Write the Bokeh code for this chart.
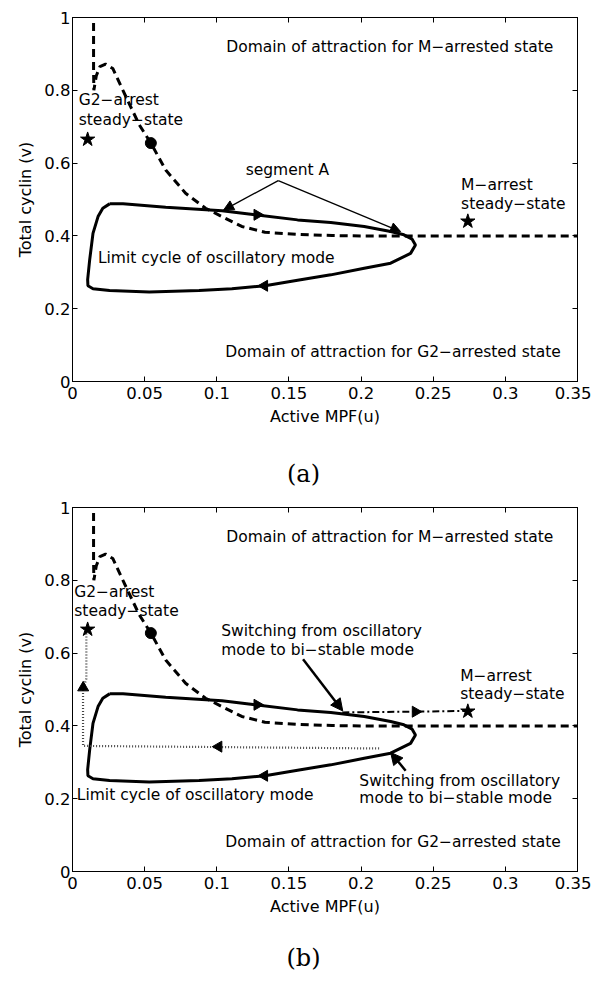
import math
from bokeh.plotting import figure
from bokeh.models import (Range1d, FixedTicker, LinearAxis, Arrow, NormalHead,
                          ColumnDataSource, Div)
from bokeh.layouts import column
from bokeh.core.properties import value
from bokeh.embed import file_html
from bokeh.resources import INLINE

# ---------------- data ----------------
x_ticks = [0, 0.05, 0.1, 0.15, 0.2, 0.25, 0.3, 0.35]
x_tick_labels = ["0", "0.05", "0.1", "0.15", "0.2", "0.25", "0.3", "0.35"]
y_ticks = [0, 0.2, 0.4, 0.6, 0.8, 1.0]
y_tick_labels = ["0", "0.2", "0.4", "0.6", "0.8", "1"]

# dashed nullcline
null_u = [0.0146, 0.0146, 0.0148, 0.0165, 0.0190, 0.0229, 0.0279, 0.0348, 0.0463,
          0.0543, 0.0646, 0.0784, 0.0922, 0.1036, 0.1173, 0.1334, 0.156, 0.18,
          0.20, 0.25, 0.30, 0.35]
null_v = [0.985, 0.86, 0.800, 0.840, 0.865, 0.872, 0.860, 0.801, 0.705,
          0.655, 0.581, 0.517, 0.476, 0.453, 0.426, 0.410, 0.404, 0.401,
          0.400, 0.400, 0.400, 0.400]

# limit cycle (closed, clockwise)
cyc_u = [0.0257, 0.0350, 0.0646, 0.1036, 0.1265, 0.156, 0.179, 0.2022, 0.2205,
         0.2297, 0.2354, 0.2377, 0.2343, 0.2205, 0.2022, 0.179, 0.156, 0.1334,
         0.1105, 0.0877, 0.0532, 0.0257, 0.0142, 0.0107, 0.0105, 0.0119, 0.0142,
         0.0177, 0.0210, 0.0257]
cyc_v = [0.488, 0.488, 0.479, 0.469, 0.458, 0.444, 0.437, 0.426, 0.412,
         0.403, 0.391, 0.375, 0.352, 0.325, 0.311, 0.293, 0.278, 0.263,
         0.255, 0.250, 0.246, 0.250, 0.255, 0.263, 0.280, 0.334, 0.407,
         0.453, 0.476, 0.488]
# direction arrows on the cycle
cyc_arrow_u = [0.128, 0.133]
cyc_arrow_v = [0.458, 0.263]
cyc_arrow_dir = ["right", "left"]

# steady states
star_u = [0.0105, 0.2740]
star_v = [0.665, 0.440]
dot_u = [0.0543]
dot_v = [0.655]

# panel (b) switching trajectories
dotted_u = [0.2125, 0.0073, 0.0073, 0.0096, 0.0096]
dotted_v = [0.338, 0.345, 0.500, 0.530, 0.655]
dotted_arrow_u = [0.1013, 0.0074]
dotted_arrow_v = [0.343, 0.505]
dotted_arrow_dir = ["left", "up"]
dashdot_u = [0.187, 0.2733]
dashdot_v = [0.437, 0.441]
dashdot_arrow_u = [0.2377]
dashdot_arrow_v = [0.439]

# annotation arrows
segA_x0 = [0.1426, 0.1426]
segA_y0 = [0.552, 0.552]
segA_x1 = [0.1047, 0.2274]
segA_y1 = [0.471, 0.412]
sw_x0 = [0.1598, 0.2309]
sw_y0 = [0.583, 0.277]
sw_x1 = [0.1873, 0.2205]
sw_y1 = [0.441, 0.327]

# texts
a_left_text = ["G2\u2212arrest", "steady\u2212state", "segment A", "M\u2212arrest",
               "steady\u2212state", "Limit cycle of oscillatory mode"]
a_left_u = [0.0043, 0.0043, 0.1200, 0.2693, 0.2693, 0.0176]
a_left_v = [0.773, 0.719, 0.581, 0.540, 0.488, 0.339]
b_left_text = ["G2\u2212arrest", "steady\u2212state", "Switching from oscillatory",
               "mode to bi\u2212stable mode", "M\u2212arrest", "steady\u2212state",
               "Switching from oscillatory", "mode to bi\u2212stable mode",
               "Limit cycle of oscillatory mode"]
b_left_u = [0.0012, 0.0012, 0.1031, 0.1031, 0.2687, 0.2687, 0.1988, 0.1988, 0.0030]
b_left_v = [0.769, 0.717, 0.660, 0.608, 0.537, 0.487, 0.250, 0.201, 0.210]
domain_text = ["Domain of attraction for M\u2212arrested state",
               "Domain of attraction for G2\u2212arrested state"]
domain_u = [0.2199, 0.2222]
domain_v = [0.918, 0.080]
captions = ["(a)", "(b)"]

FONT = "DejaVu Sans"
ANN = "15.5px"


def tri_angle(d):
    return {"up": 0.0, "right": -math.pi / 2, "left": math.pi / 2, "down": math.pi}[d]


def make_panel(which, border_top):
    p = figure(frame_width=505, frame_height=364,
               x_range=Range1d(0, 0.35), y_range=Range1d(0, 1),
               min_border_left=72, min_border_right=14, min_border_top=border_top,
               min_border_bottom=50,
               output_backend="svg", toolbar_location=None)
    p.xgrid.visible = False
    p.ygrid.visible = False
    p.outline_line_color = "black"
    p.outline_line_width = 1
    p.background_fill_color = "white"
    p.border_fill_color = "white"

    for ax, ticks, labels in ((p.xaxis[0], x_ticks, x_tick_labels),
                              (p.yaxis[0], y_ticks, y_tick_labels)):
        ax.ticker = FixedTicker(ticks=ticks)
        ax.major_label_overrides = {t: l for t, l in zip(ticks, labels)}
        ax.major_tick_in = 5
        ax.major_tick_out = 0
        ax.minor_tick_line_color = None
        ax.major_label_text_font = FONT
        ax.major_label_text_font_size = "16.5px"
        ax.major_label_text_color = "black"
        ax.axis_label_text_font = FONT
        ax.axis_label_text_font_size = "16px"
        ax.axis_label_text_font_style = "normal"
        ax.axis_label_text_color = "black"
        ax.axis_line_color = "black"
    p.xaxis[0].axis_label = "Active MPF(u)"
    p.xaxis[0].major_label_standoff = 5
    p.xaxis[0].axis_label_standoff = 5
    p.yaxis[0].axis_label = "Total cyclin (v)"
    p.yaxis[0].major_label_standoff = 2
    p.yaxis[0].axis_label_standoff = 6

    for loc, ticks in (("above", x_ticks), ("right", y_ticks)):
        ax = LinearAxis(ticker=FixedTicker(ticks=ticks), major_tick_in=5,
                        major_tick_out=0, minor_tick_line_color=None,
                        major_label_text_font_size="0px", major_label_standoff=0,
                        axis_line_color="black")
        p.add_layout(ax, loc)

    # nullcline
    p.line(null_u, null_v, line_color="black", line_width=3, line_dash="8 5")
    # limit cycle
    p.line(cyc_u, cyc_v, line_color="black", line_width=3)
    p.scatter(cyc_arrow_u, cyc_arrow_v, marker="triangle", size=11,
              angle=[tri_angle(d) for d in cyc_arrow_dir],
              fill_color="black", line_color="black")

    if which == "b":
        p.line(dotted_u, dotted_v, line_color="#444444", line_width=2.2,
               line_dash="1 2")
        p.scatter(dotted_arrow_u, dotted_arrow_v, marker="triangle", size=11,
                  angle=[tri_angle(d) for d in dotted_arrow_dir],
                  fill_color="black", line_color="black")
        p.line(dashdot_u, dashdot_v, line_color="black", line_width=2,
               line_dash="7 3 2 3")
        p.scatter(dashdot_arrow_u, dashdot_arrow_v, marker="triangle", size=11,
                  angle=tri_angle("right"), fill_color="black", line_color="black")
        src = ColumnDataSource(dict(x0=sw_x0, y0=sw_y0, x1=sw_x1, y1=sw_y1))
        p.add_layout(Arrow(end=NormalHead(size=12, fill_color="black",
                                          line_color="black"),
                           x_start="x0", y_start="y0", x_end="x1", y_end="y1",
                           source=src, line_width=2.5, line_color="black"))
        texts, tu, tv = b_left_text, b_left_u, b_left_v
    else:
        src = ColumnDataSource(dict(x0=segA_x0, y0=segA_y0, x1=segA_x1, y1=segA_y1))
        p.add_layout(Arrow(end=NormalHead(size=10, fill_color="black",
                                          line_color="black"),
                           x_start="x0", y_start="y0", x_end="x1", y_end="y1",
                           source=src, line_width=1.3, line_color="black"))
        texts, tu, tv = a_left_text, a_left_u, a_left_v

    # steady states
    p.scatter(star_u, star_v, marker="star", size=15, fill_color="black",
              line_color="black")
    p.scatter(dot_u, dot_v, marker="circle", size=11, fill_color="black",
              line_color="black")

    p.text(x=tu, y=tv, text=texts, text_font=value(FONT),
           text_font_size=value(ANN), text_baseline="middle", text_align="left",
           text_color="black")
    p.text(x=domain_u, y=domain_v, text=domain_text, text_font=value(FONT),
           text_font_size=value(ANN), text_baseline="middle", text_align="center",
           text_color="black")
    return p


def make_caption(text, height, pad_top):
    return Div(text=text, width=591, height=height, margin=0,
               styles={"text-align": "center", "font-family": "DejaVu Serif",
                       "font-size": "24px", "line-height": "24px",
                       "padding-top": f"{pad_top}px", "padding-left": "16px",
                       "box-sizing": "border-box", "color": "black"})


pa = make_panel("a", 17)
ca = make_caption(captions[0], 66, 31)
pb = make_panel("b", 10)
cb = make_caption(captions[1], 50, 25)
layout = column(pa, ca, pb, cb, spacing=0)
open("out.html", "w").write(file_html(layout, INLINE))
